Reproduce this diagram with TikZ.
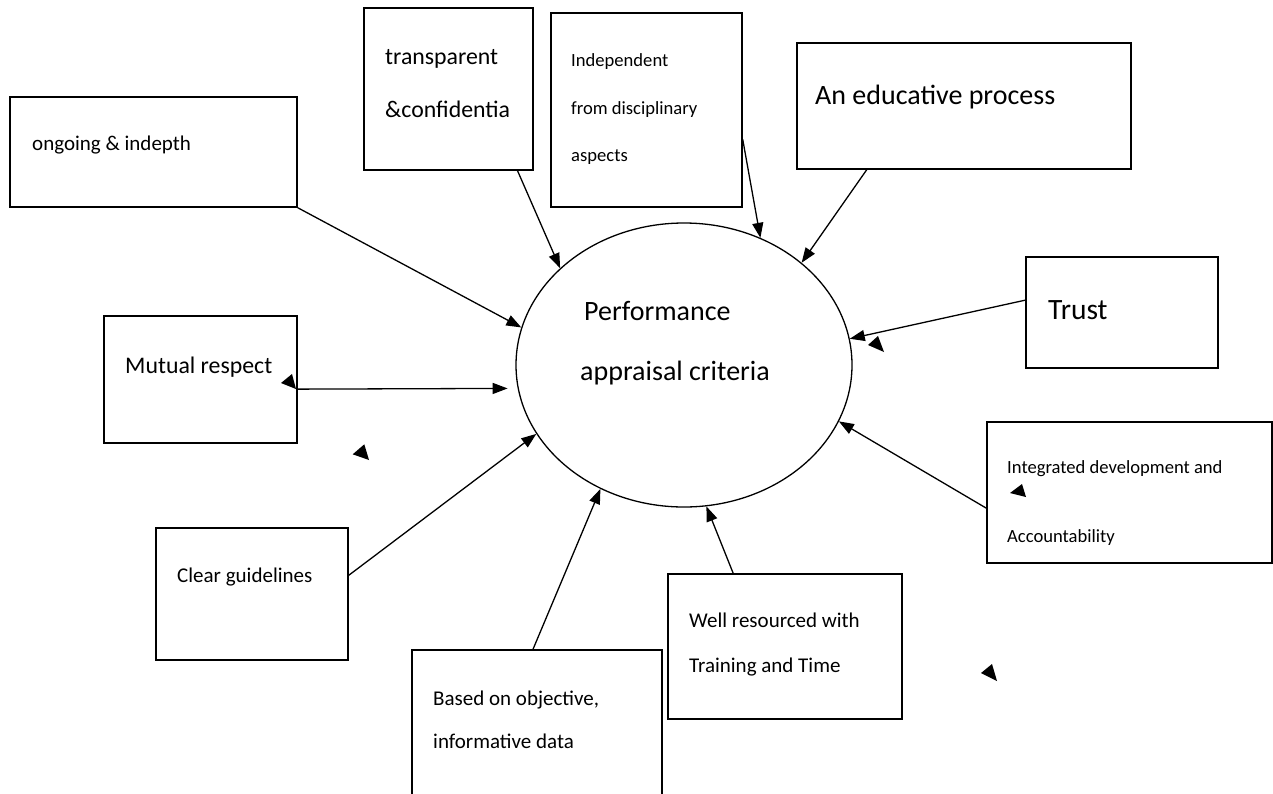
\documentclass[tikz,border=0pt]{standalone}
\usepackage{fontspec}
\setmainfont{Carlito}
\usetikzlibrary{arrows.meta,calc,shapes.geometric,fit}
\begin{document}
\begin{tikzpicture}[x=1pt,y=-1pt,
  box/.style={draw,line width=1.4pt,inner sep=0pt},
  lbl/.style={anchor=base west,inner sep=0pt},
  fs/.style={font=\fontsize{18.6}{20}\selectfont},
  fm/.style={font=\fontsize{21}{23}\selectfont},
  fl/.style={font=\fontsize{23.8}{26}\selectfont},
  fx/.style={font=\fontsize{28}{30}\selectfont},
  conn/.style={line width=1.3pt,-{Triangle[length=15pt,width=11pt]}},
]
\clip (0,0) rectangle (1273,793);
\fill[white] (0,0) rectangle (1273,793);

% central ellipse
\node[draw,ellipse,line width=1.3pt,minimum width=336pt,minimum height=284pt,inner sep=0pt] (pa) at (684,365) {};
\node[lbl,fx] (pa1) at (584,320) {Performance};
\node[lbl,fx] (pa2) at (580,380) {appraisal criteria};

% criteria boxes
\node[box,fit={(10,97) (297,207)}] (og) {};
\node[box,fit={(364,8) (533,170)}] (tc) {};
\node[box,fit={(551,13) (742,207)}] (ind) {};
\node[box,fit={(797,43) (1131,169)}] (edu) {};
\node[box,fit={(1026,257) (1218,368)}] (tr) {};
\node[box,fit={(104,316) (297,443)}] (mr) {};
\node[box,fit={(987,422) (1272,563)}] (ia) {};
\node[box,fit={(156,528) (348,660)}] (cg) {};
\node[box,fit={(668,574) (902,719)}] (wr) {};
\node[box,fit={(412,650) (662,820)}] (bo) {};

% box texts
\node[lbl,fm] (og1) at (32,150) {ongoing \& indepth};
\node[lbl,fl] (tc1) at (385,64) {transparent};
\node[lbl,fl] (tc2) at (385,117) {\&confidentia};
\node[lbl,fs] (ind1) at (571,66) {Independent};
\node[lbl,fs] (ind2) at (571,114) {from disciplinary};
\node[lbl,fs] (ind3) at (571,161) {aspects};
\node[lbl,fx] (edu1) at (815,104) {An educative process};
\node[lbl,font=\fontsize{29.5}{31}\selectfont] (tr1) at (1048,319) {Trust};
\node[lbl,fl] (mr1) at (125,373) {Mutual respect};
\node[lbl,fs] (ia1) at (1007,473) {Integrated development and};
\node[lbl,fs] (ia2) at (1007,542) {Accountability};
\node[lbl,fm] (cg1) at (177,582) {Clear guidelines};
\node[lbl,fm] (wr1) at (689,627) {Well resourced with};
\node[lbl,fm] (wr2) at (689,672) {Training and Time};
\node[lbl,fm] (bo1) at (433,705) {Based on objective,};
\node[lbl,fm] (bo2) at (433,748) {informative data};

% connectors into the ellipse
\draw[conn] (og.south east) -- (pa.167);
\draw[conn] ($(tc.south west)!0.905!(tc.south east)$) -- (pa.142);
\draw[conn] ($(ind.north east)!0.65!(ind.south east)$) -- (pa.59);
\draw[conn] ($(edu.south west)!0.21!(edu.south east)$) -- (pa.41);
\draw[conn] ($(tr.north west)!0.39!(tr.south west)$) -- (pa.9);
\draw[conn] ($(ia.north west)!0.61!(ia.south west)$) -- (pa.-20);
\draw[conn] ($(wr.north west)!0.28!(wr.north east)$) -- (pa.-81);
\draw[conn] ($(bo.north west)!0.484!(bo.north east)$) -- (pa.-124.5);
\draw[conn] ($(cg.north east)!0.36!(cg.south east)$) -- (pa.205);
\draw[conn,shorten >=10pt] ($(mr.north east)!0.575!(mr.south east)$) -- (pa.188);

% loose arrowheads
\fill (281,383) -- (292,374) -- (296,389) -- cycle;
\fill (352.7,454.3) -- (364.3,444.3) -- (369,460) -- cycle;
\fill (868,345) -- (878,336) -- (884,352) -- cycle;
\fill (1010,493) -- (1022,484) -- (1026,497) -- cycle;
\fill (981,673) -- (992,664) -- (997,681) -- cycle;
\end{tikzpicture}
\end{document}
